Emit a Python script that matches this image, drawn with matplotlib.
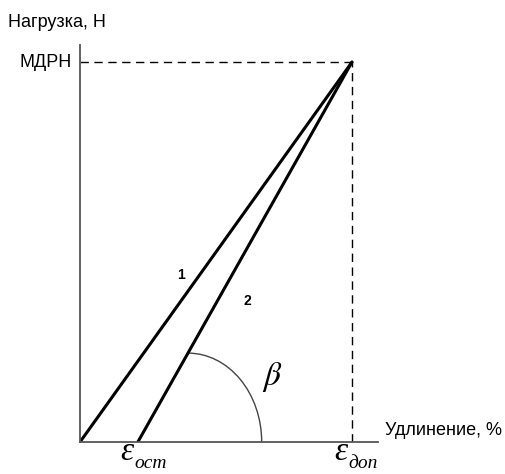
import numpy as np
import matplotlib.pyplot as plt
from matplotlib.patches import Arc

# elongation (%) and load (relative) values
eps_ost = 1.0
eps_dop = 4.7
mdrn = 100.0
line1_x = [0.0, eps_dop]
line1_y = [0.0, mdrn]
line2_x = [eps_ost, eps_dop]
line2_y = [0.0, mdrn]
arc_load = 23.4     # load where the beta arc meets line 2
arc_end_x = 3.14    # where the arc meets the elongation axis

x_max = 5.15
y_max = 104.5

plt.rcParams["font.family"] = ["Liberation Sans", "DejaVu Sans"]

fig = plt.figure(figsize=(5.06, 4.74), dpi=100)
ax = fig.add_axes([0.1581, 0.0675, 0.747 - 0.1581, 0.905 - 0.0675])
ax.set_xlim(0, x_max)
ax.set_ylim(0, y_max)
for s in ["top", "right"]:
    ax.spines[s].set_visible(False)
for s in ["left", "bottom"]:
    ax.spines[s].set_color("#555555")
    ax.spines[s].set_linewidth(1.3)
ax.set_xticks([])
ax.set_yticks([])

# main lines
ax.plot(line1_x, line1_y, color="black", lw=2.2, solid_capstyle="round")
ax.plot(line2_x, line2_y, color="black", lw=2.2, solid_capstyle="round")

# dashed guides
ax.plot([0, eps_dop], [mdrn, mdrn], color="black", lw=1.0, ls=(0, (6, 4)))
ax.plot([eps_dop, eps_dop], [0, mdrn], color="black", lw=1.0, ls=(0, (6, 4)))

# beta arc (quarter ellipse)
arc_cx = eps_ost + (eps_dop - eps_ost) * arc_load / mdrn
ax.add_patch(Arc((arc_cx, 0), 2 * (arc_end_x - arc_cx), 2 * arc_load,
                 theta1=0, theta2=90, color="#444444", lw=1.0))

ax.text(3.33, 17, r"$\beta$", fontsize=24, ha="center", va="center",
        math_fontfamily="stix")

ax.text(1.75, 44, "1", fontsize=10, fontweight="bold", ha="center", va="center")
ax.text(2.89, 37, "2", fontsize=10, fontweight="bold", ha="center", va="center")

ax.text(-0.14, mdrn, "МДРН", fontsize=13, ha="right", va="center")
ax.text(-1.25, 110.5, "Нагрузка, Н", fontsize=13, ha="left", va="center",
        clip_on=False)
ax.text(x_max + 0.12, 3, "Удлинение, %", fontsize=13, ha="left", va="center",
        clip_on=False)

# epsilon labels
for xv, sub in [(eps_ost, "ост"), (eps_dop, "доп")]:
    ax.text(xv - 0.07, -6.6, "ε", fontsize=24, ha="right", va="bottom",
            family="Liberation Serif", style="italic", clip_on=False)
    ax.text(xv - 0.06, -8.0, sub, fontsize=14, ha="left", va="bottom",
            family="Liberation Serif", style="italic", clip_on=False)

fig.savefig("out.png", dpi=100)
